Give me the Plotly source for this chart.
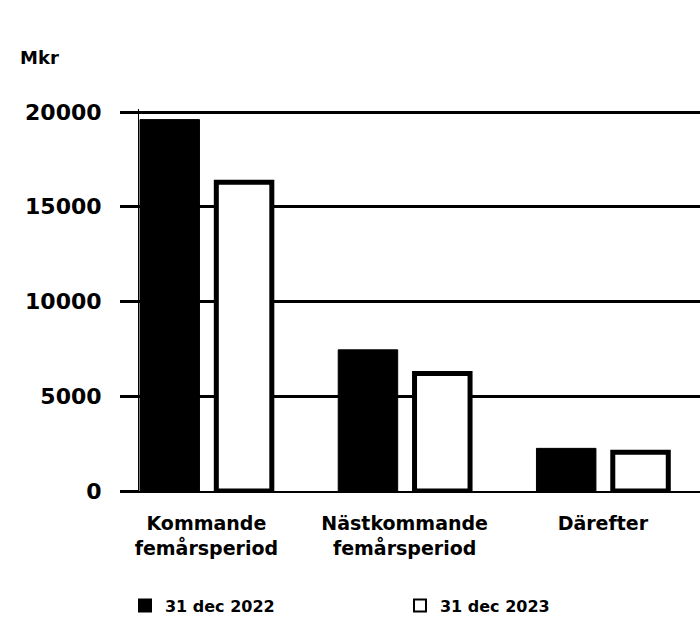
import plotly.graph_objects as go

# Categories (two-line labels) and values in Mkr
categories = ["Kommande<br>femårsperiod", "Nästkommande<br>femårsperiod", "Därefter"]
values_2022 = [19600, 7450, 2250]
values_2023 = [16300, 6200, 2050]
series_names = ["31 dec 2022", "31 dec 2023"]
y_ticks = [0, 5000, 10000, 15000, 20000]
y_tick_labels = ["0", "5000", "10000", "15000", "20000"]

font_family = "DejaVu Sans, Verdana, sans-serif"

fig = go.Figure()
fig.add_trace(go.Bar(
    x=categories, y=values_2022, name=series_names[0],
    marker=dict(color="black", line=dict(color="black", width=1)),
    width=0.3, offset=-0.335,
))
fig.add_trace(go.Bar(
    x=categories, y=values_2023, name=series_names[1],
    marker=dict(color="white", line=dict(color="black", width=5)),
    width=0.28, offset=0.05,
))

fig.update_layout(
    width=700, height=618,
    margin=dict(l=139, r=0, t=109, b=127, autoexpand=False),
    paper_bgcolor="white", plot_bgcolor="white",
    barmode="overlay",
    showlegend=True,
    font=dict(family=font_family, size=15, color="black", weight="bold"),
    legend=dict(
        orientation="h", x=-0.025, y=-0.30, xanchor="left", yanchor="middle",
        entrywidth=230, entrywidthmode="pixels",
        font=dict(size=16, weight="bold"), itemsizing="constant",
    ),
    annotations=[dict(
        text="Mkr", xref="paper", yref="paper", x=-0.215, y=1.134,
        xanchor="left", yanchor="middle", showarrow=False,
        font=dict(size=18, weight="bold"),
    )],
)
fig.update_xaxes(
    range=[-0.34, 2.49],
    showline=True, linecolor="black", linewidth=2,
    showgrid=False, ticks="", ticklabelstandoff=14,
    tickfont=dict(size=19, weight="bold"),
)
fig.update_yaxes(
    range=[0, 20160],
    tickvals=y_ticks, ticktext=y_tick_labels,
    showgrid=True, gridcolor="black", gridwidth=3,
    zeroline=False,
    showline=True, linecolor="black", linewidth=1,
    ticks="outside", ticklen=18, tickwidth=3, tickcolor="black",
    ticklabelstandoff=14,
    tickfont=dict(size=22, weight="bold"),
)

fig.write_html("out.html")
